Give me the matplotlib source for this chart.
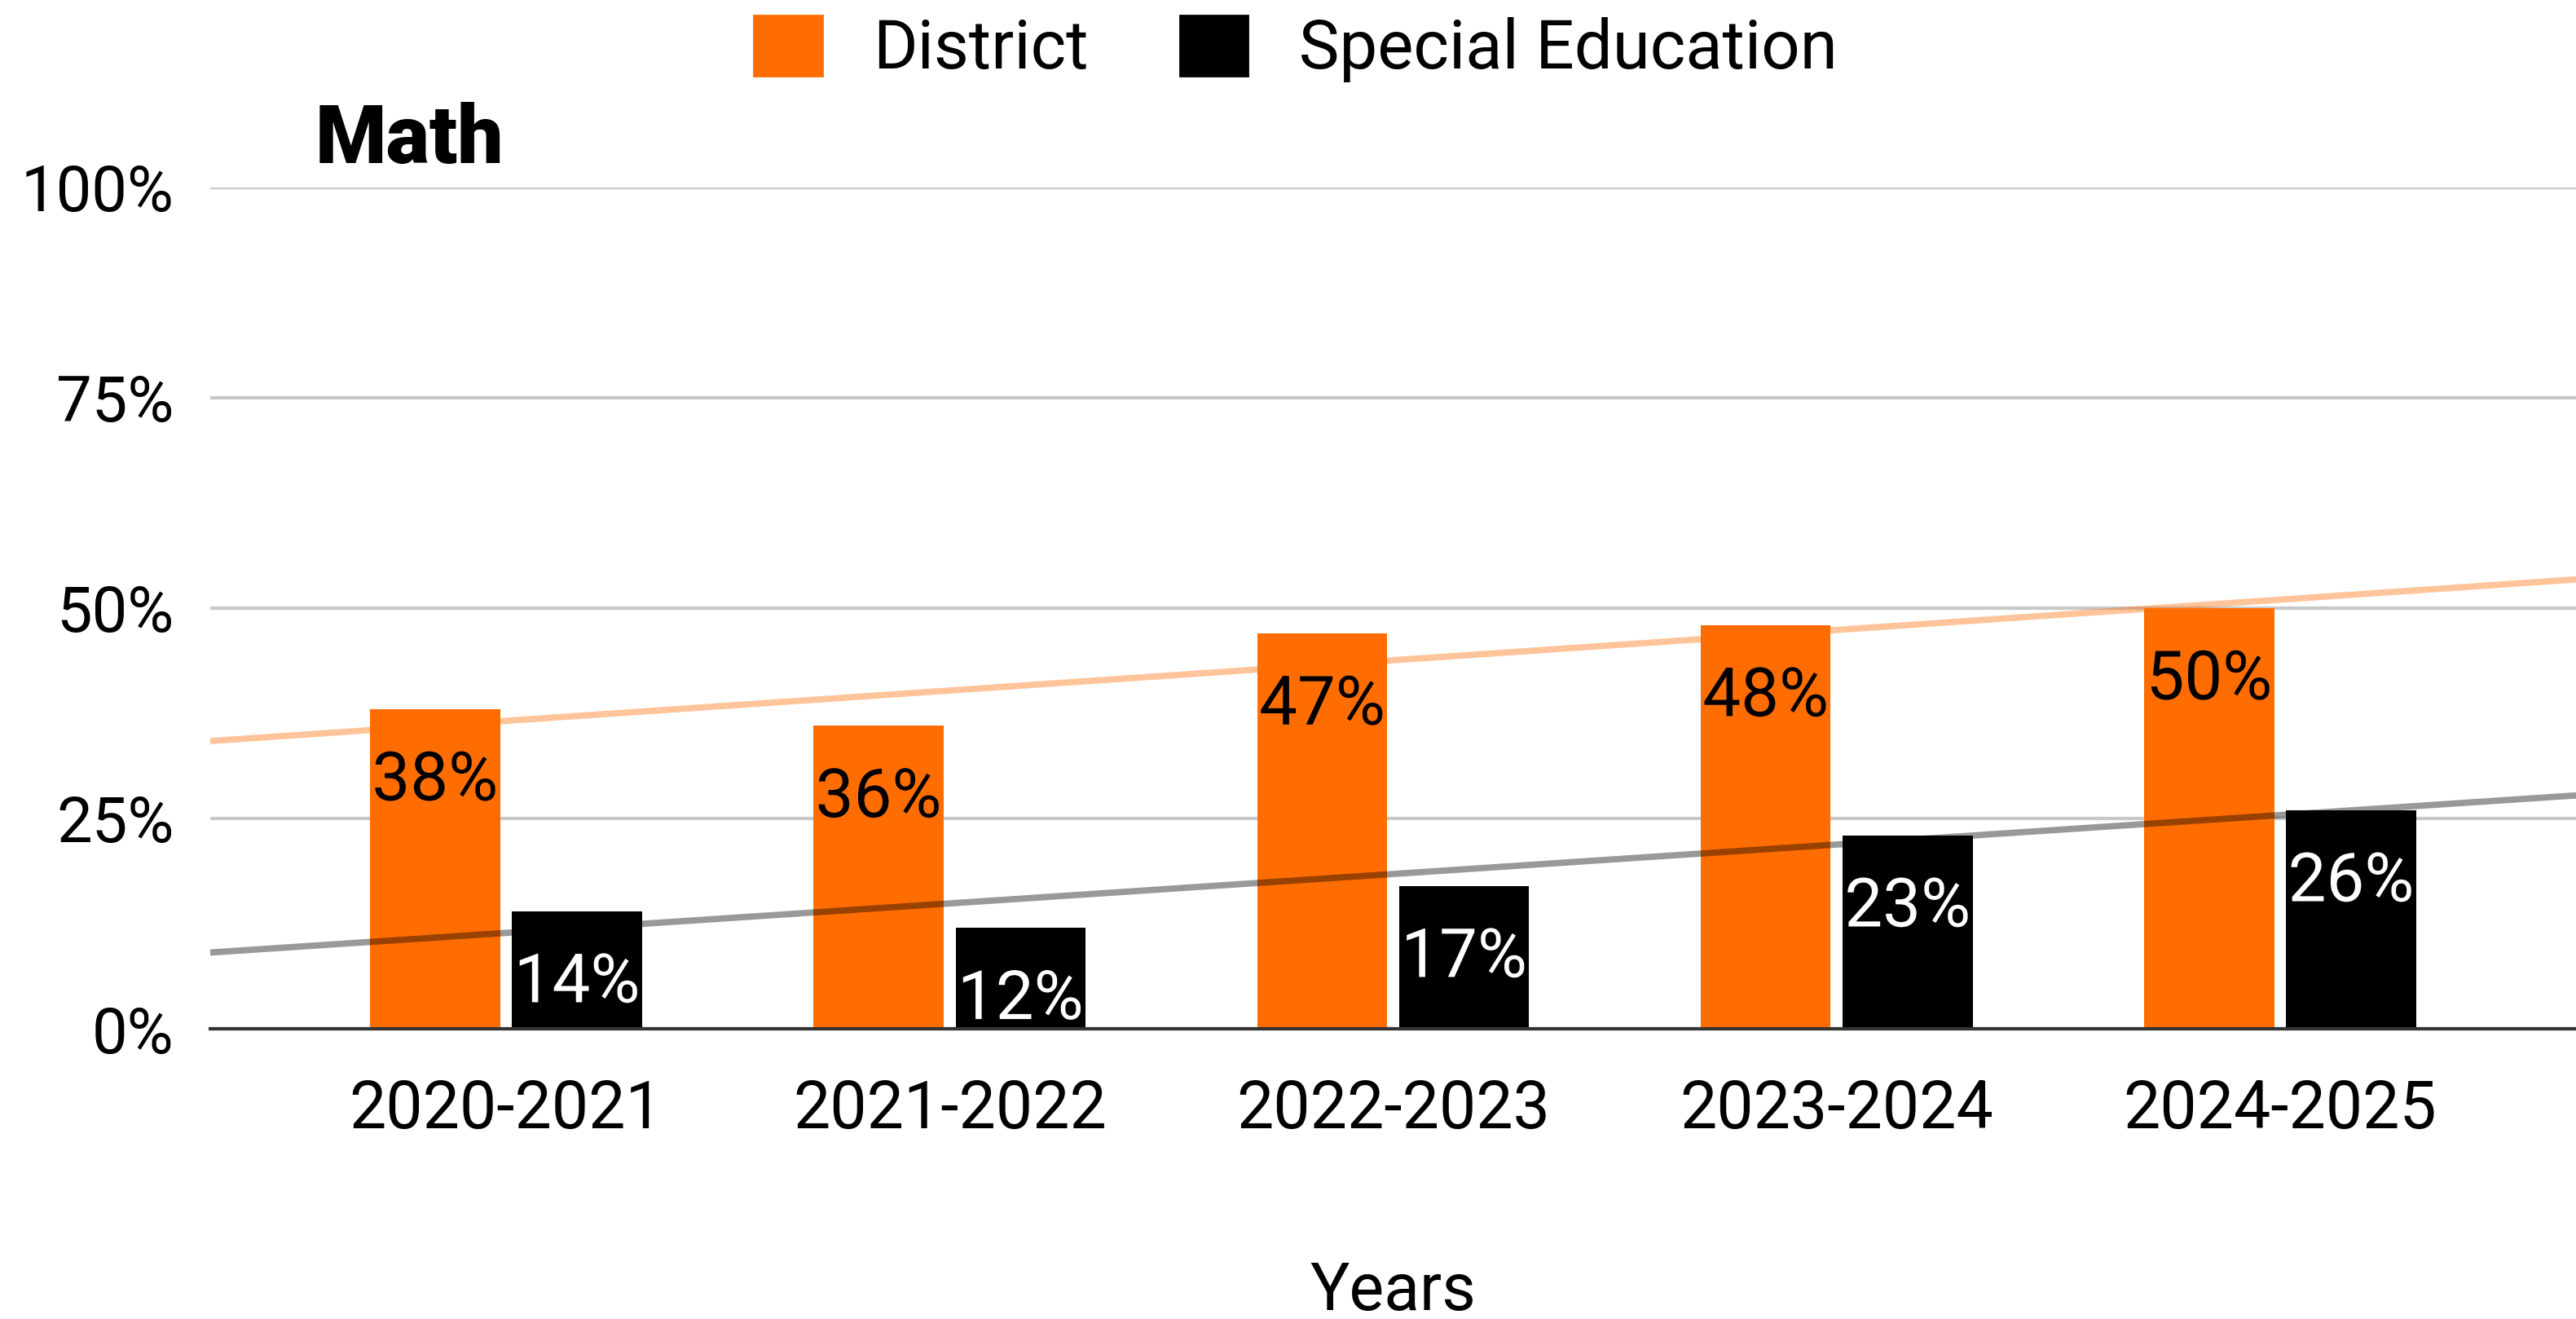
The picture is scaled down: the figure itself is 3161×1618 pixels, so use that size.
import numpy as np
import matplotlib
matplotlib.use('Agg')
import matplotlib.pyplot as plt
import matplotlib.patheffects as pe
from matplotlib.patches import Patch

plt.rcParams['font.family'] = ['Roboto', 'DejaVu Sans']

years = ['2020-2021', '2021-2022', '2022-2023', '2023-2024', '2024-2025']
district = [38, 36, 47, 48, 50]
special_ed = [14, 12, 17, 23, 26]
y_ticks = [0, 25, 50, 75, 100]

ORANGE = '#ff6d01'
BLACK = '#000000'

fig = plt.figure(figsize=(15.805, 8.09), dpi=200)
ax = fig.add_axes([0.0816, 0.22, 0.9184, 0.638])

x = np.arange(len(years))
w = 0.293
off = 0.16
b1 = ax.bar(x - off, district, width=w, color=ORANGE, zorder=2)
b2 = ax.bar(x + off, special_ed, width=w, color=BLACK, zorder=2)

# linear trendlines across the full plot width
xlim = (-0.667, len(years) - 1 + 0.667)
xs = np.array(xlim)
for vals, col in [(district, ORANGE), (special_ed, BLACK)]:
    k, c = np.polyfit(x, vals, 1)
    ax.plot(xs, k * xs + c, color=col, alpha=0.4, lw=2.8, zorder=3,
            solid_capstyle='butt')

# value labels inside the bar tops with a halo
for bars, vals, tc, hc in [(b1, district, 'black', ORANGE), (b2, special_ed, 'white', BLACK)]:
    for bar, v in zip(bars, vals):
        ax.annotate(f'{v}%', (bar.get_x() + bar.get_width() / 2, v),
                    xytext=(0, -32), textcoords='offset points',
                    ha='center', va='center', fontsize=30, color=tc, zorder=4,
                    path_effects=[pe.withStroke(linewidth=3, foreground=hc)])

ax.set_xlim(*xlim)
ax.set_ylim(0, 100)
ax.set_yticks(y_ticks)
ax.set_yticklabels([f'{t}%' for t in y_ticks])
ax.set_xticks(x)
ax.set_xticklabels(years)
ax.tick_params(axis='both', length=0)
ax.tick_params(axis='y', pad=16, labelsize=28)
ax.tick_params(axis='x', pad=22, labelsize=29)
ax.grid(axis='y', color='#c8c8c8', lw=1.5, zorder=0)
ax.set_axisbelow(True)
for s in ['top', 'right', 'left']:
    ax.spines[s].set_visible(False)
ax.spines['bottom'].set_color('#333333')
ax.spines['bottom'].set_linewidth(1.5)
ax.spines['bottom'].set_zorder(5)

ax.set_xlabel('Years', fontsize=29, labelpad=52)
fig.text(387 / 3161, 1 - 200 / 1618, 'Math', fontsize=36, fontweight='heavy',
         ha='left', va='baseline')

handles = [Patch(color=ORANGE, label='District'),
           Patch(color=BLACK, label='Special Education')]
fig.legend(handles=handles, loc='center', bbox_to_anchor=(0.503, 1 - 60 / 1618),
           ncol=2, frameon=False, fontsize=30, handlelength=1.0, handleheight=1.0,
           handletextpad=0.75, columnspacing=1.35)

fig.savefig('out.png', dpi=200)
